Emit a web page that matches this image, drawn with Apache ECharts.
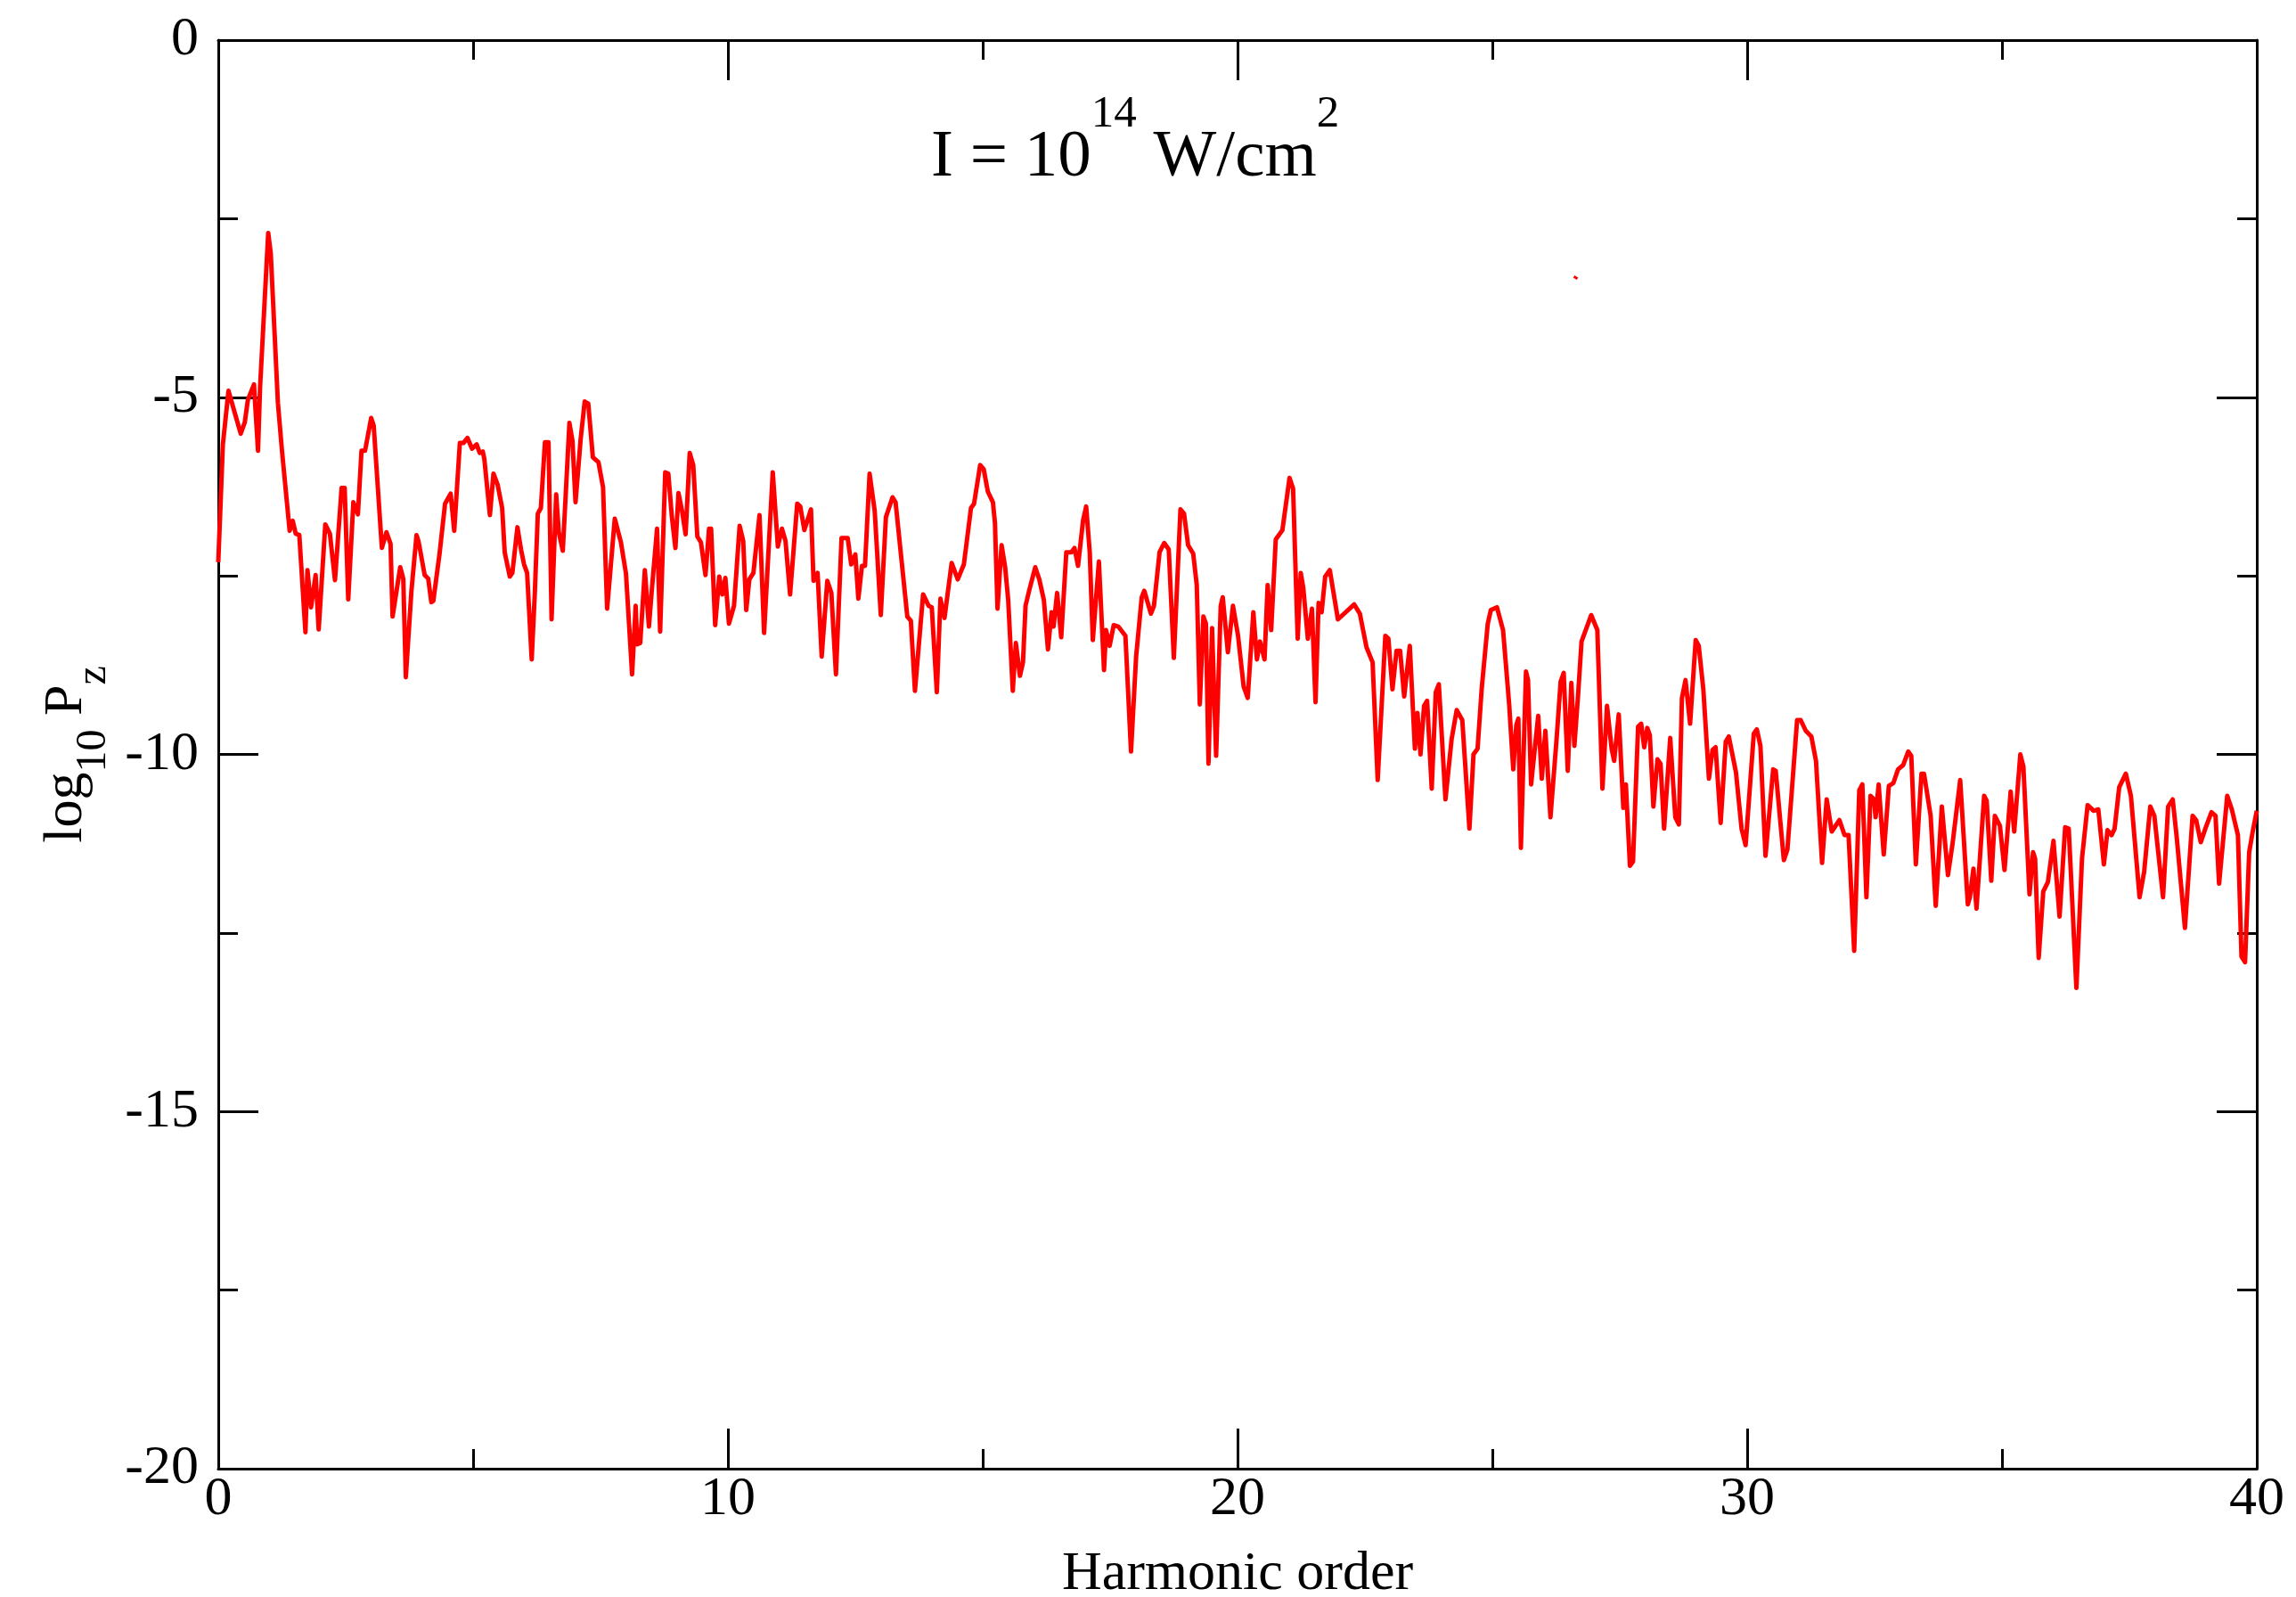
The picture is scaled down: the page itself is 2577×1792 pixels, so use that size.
<!DOCTYPE html>
<html>
<head>
<meta charset="utf-8">
<script src="https://cdn.jsdelivr.net/npm/echarts@6/dist/echarts.min.js"></script>
<style>
html, body { margin: 0; padding: 0; background: #ffffff; }
#chart { width: 2577px; height: 1792px; }
</style>
</head>
<body>
<div id="chart"></div>
<script>
// Harmonic order vs log10 Pz, in segments
const seg00to05 = [[0.0,-7.31],[0.09,-5.66],[0.2,-4.91],[0.44,-5.51],[0.52,-5.35],[0.58,-5.04],[0.7,-4.82],[0.78,-5.75],[0.82,-4.86],[0.98,-2.70],[1.03,-2.99],[1.17,-5.08],[1.25,-5.75],[1.4,-6.87],[1.46,-6.73],[1.52,-6.91],[1.59,-6.93],[1.71,-8.29],[1.75,-7.42],[1.82,-7.94],[1.91,-7.49],[1.97,-8.25],[2.1,-6.78],[2.19,-6.91],[2.29,-7.56],[2.42,-6.27],[2.48,-6.27],[2.55,-7.83],[2.65,-6.47],[2.74,-6.64],[2.81,-5.75],[2.88,-5.75],[3.0,-5.29],[3.05,-5.40],[3.21,-7.11],[3.3,-6.89],[3.38,-7.05],[3.42,-8.07],[3.57,-7.38],[3.63,-7.54],[3.68,-8.92],[3.79,-7.71],[3.89,-6.93],[3.93,-7.02],[4.05,-7.49],[4.12,-7.54],[4.18,-7.87],[4.22,-7.85],[4.34,-7.20],[4.45,-6.49],[4.52,-6.40],[4.56,-6.35],[4.63,-6.87],[4.74,-5.64]];
const seg05to10 = [[4.81,-5.64],[4.89,-5.57],[4.98,-5.72],[5.07,-5.66],[5.13,-5.78],[5.19,-5.76],[5.22,-5.86],[5.33,-6.65],[5.4,-6.07],[5.48,-6.22],[5.57,-6.55],[5.62,-7.17],[5.72,-7.51],[5.77,-7.46],[5.87,-6.82],[5.94,-7.13],[6.0,-7.34],[6.06,-7.46],[6.15,-8.67],[6.21,-7.76],[6.27,-6.63],[6.33,-6.55],[6.41,-5.63],[6.48,-5.63],[6.54,-8.11],[6.63,-6.36],[6.68,-6.88],[6.76,-7.15],[6.89,-5.36],[6.95,-5.61],[7.01,-6.47],[7.11,-5.59],[7.19,-5.06],[7.26,-5.09],[7.35,-5.84],[7.46,-5.91],[7.55,-6.26],[7.63,-7.96],[7.78,-6.7],[7.9,-7.03],[8.0,-7.47],[8.12,-8.88],[8.19,-7.92],[8.22,-8.46],[8.28,-8.44],[8.37,-7.42],[8.45,-8.21],[8.51,-7.67],[8.61,-6.84],[8.67,-8.28],[8.77,-6.05],[8.83,-6.07],[8.9,-6.67],[8.97,-7.11],[9.03,-6.34],[9.1,-6.59],[9.17,-6.92],[9.25,-5.78],[9.32,-5.95],[9.4,-6.95],[9.47,-7.03],[9.56,-7.49],[9.63,-6.84],[9.67,-6.84],[9.75,-8.19],[9.83,-7.51],[9.89,-7.76],[9.95,-7.53],[10.02,-8.17],[10.12,-7.92],[10.23,-6.8]];
const seg10to15 = [[10.3,-7.01],[10.36,-7.98],[10.42,-7.55],[10.5,-7.46],[10.62,-6.65],[10.71,-8.3],[10.88,-6.05],[10.98,-7.09],[11.06,-6.84],[11.13,-7.01],[11.22,-7.76],[11.36,-6.49],[11.42,-6.53],[11.5,-6.86],[11.63,-6.57],[11.68,-7.57],[11.76,-7.46],[11.84,-8.63],[11.95,-7.57],[12.03,-7.74],[12.12,-8.88],[12.23,-6.97],[12.35,-6.97],[12.42,-7.34],[12.5,-7.2],[12.56,-7.82],[12.63,-7.36],[12.69,-7.36],[12.78,-6.07],[12.88,-6.59],[13.0,-8.05],[13.1,-6.68],[13.23,-6.4],[13.29,-6.47],[13.52,-8.07],[13.59,-8.13],[13.67,-9.11],[13.83,-7.76],[13.94,-7.92],[14.0,-7.94],[14.1,-9.13],[14.17,-7.82],[14.25,-8.09],[14.39,-7.32],[14.51,-7.55],[14.63,-7.34],[14.77,-6.55],[14.83,-6.49]];
const seg15to20 = [[14.95,-5.95],[15.02,-6.01],[15.1,-6.32],[15.2,-6.47],[15.24,-6.76],[15.29,-7.96],[15.37,-7.07],[15.44,-7.38],[15.5,-7.84],[15.59,-9.11],[15.65,-8.44],[15.73,-8.9],[15.79,-8.71],[15.84,-7.92],[15.91,-7.71],[16.03,-7.38],[16.11,-7.55],[16.2,-7.84],[16.28,-8.53],[16.35,-8.01],[16.39,-8.21],[16.46,-7.74],[16.54,-8.36],[16.64,-7.17],[16.74,-7.17],[16.8,-7.11],[16.87,-7.36],[16.97,-6.72],[17.03,-6.53],[17.1,-7.17],[17.16,-8.4],[17.28,-7.3],[17.38,-8.82],[17.42,-8.26],[17.49,-8.48],[17.57,-8.19],[17.66,-8.21],[17.8,-8.34],[17.91,-9.96],[18.01,-8.63],[18.12,-7.8],[18.17,-7.71],[18.3,-8.03],[18.36,-7.92],[18.47,-7.17],[18.56,-7.04],[18.65,-7.13],[18.75,-8.65],[18.88,-6.57],[18.95,-6.63],[19.03,-7.07],[19.13,-7.19],[19.2,-7.63],[19.26,-9.3],[19.33,-8.07],[19.38,-8.17],[19.43,-10.13],[19.5,-8.23],[19.58,-10.02],[19.67,-7.92],[19.71,-7.8],[19.81,-8.57]];
const seg20to25 = [[19.91,-7.92],[20.01,-8.34],[20.12,-9.05],[20.2,-9.21],[20.31,-8.01],[20.38,-8.67],[20.44,-8.42],[20.53,-8.67],[20.59,-7.63],[20.66,-8.26],[20.75,-6.99],[20.88,-6.86],[21.02,-6.13],[21.09,-6.28],[21.18,-8.38],[21.24,-7.46],[21.29,-7.67],[21.38,-8.38],[21.46,-7.96],[21.53,-9.27],[21.59,-7.88],[21.65,-8.01],[21.72,-7.51],[21.81,-7.42],[21.97,-8.11],[22.29,-7.9],[22.4,-8.03],[22.53,-8.5],[22.65,-8.71],[22.75,-10.36],[22.9,-8.34],[22.96,-8.38],[23.04,-9.09],[23.12,-8.55],[23.19,-8.55],[23.27,-9.19],[23.38,-8.48],[23.48,-9.92],[23.53,-9.42],[23.59,-10.0],[23.66,-9.32],[23.72,-9.25],[23.81,-10.48],[23.89,-9.13],[23.95,-9.02],[24.08,-10.63],[24.2,-9.79],[24.3,-9.38],[24.41,-9.52],[24.55,-11.04],[24.63,-10.0],[24.71,-9.92],[24.79,-9.09],[24.91,-8.17],[24.97,-7.98]];
const seg25to30 = [[25.09,-7.94],[25.21,-8.26],[25.33,-9.3],[25.41,-10.21],[25.47,-9.59],[25.51,-9.5],[25.56,-11.31],[25.66,-8.84],[25.7,-8.96],[25.76,-10.42],[25.9,-9.46],[25.97,-10.34],[26.04,-9.67],[26.14,-10.88],[26.26,-9.79],[26.34,-8.98],[26.4,-8.86],[26.48,-10.23],[26.55,-9.0],[26.61,-9.88],[26.68,-9.19],[26.75,-8.42],[26.94,-8.05],[27.06,-8.26],[27.16,-10.48],[27.25,-9.32],[27.34,-9.92],[27.39,-10.09],[27.48,-9.44],[27.57,-10.75],[27.62,-10.42],[27.7,-11.56],[27.76,-11.5],[27.86,-9.61],[27.92,-9.57],[27.98,-9.9],[28.04,-9.63],[28.09,-9.73],[28.16,-10.73],[28.24,-10.07],[28.3,-10.13],[28.37,-11.04],[28.49,-9.77],[28.59,-10.88],[28.66,-10.98],[28.72,-9.21],[28.79,-8.96],[28.88,-9.57],[28.99,-8.4],[29.05,-8.48],[29.14,-9.09],[29.25,-10.34],[29.32,-9.94],[29.38,-9.9],[29.48,-10.96],[29.58,-9.82],[29.64,-9.75],[29.78,-10.25],[29.89,-11.04],[29.97,-11.27]];
const seg30to35 = [[30.13,-9.71],[30.19,-9.65],[30.26,-9.88],[30.36,-11.42],[30.51,-10.21],[30.56,-10.23],[30.72,-11.48],[30.79,-11.33],[30.98,-9.52],[31.05,-9.52],[31.15,-9.67],[31.26,-9.75],[31.35,-10.09],[31.47,-11.52],[31.56,-10.63],[31.66,-11.08],[31.81,-10.92],[31.91,-11.13],[31.99,-11.13],[32.1,-12.75],[32.2,-10.5],[32.26,-10.42],[32.34,-12.0],[32.42,-10.58],[32.49,-10.63],[32.52,-10.88],[32.58,-10.42],[32.68,-11.4],[32.78,-10.44],[32.87,-10.4],[32.96,-10.21],[33.06,-10.15],[33.16,-9.96],[33.22,-10.02],[33.31,-11.54],[33.42,-10.27],[33.47,-10.27],[33.6,-10.86],[33.7,-12.12],[33.82,-10.73],[33.94,-11.69],[34.03,-11.25],[34.18,-10.36],[34.33,-12.1],[34.37,-12.0],[34.44,-11.6],[34.5,-12.16],[34.65,-10.58],[34.7,-10.65]];
const seg35to40 = [[34.79,-11.77],[34.86,-10.86],[34.96,-11.0],[35.05,-11.62],[35.17,-10.52],[35.24,-11.08],[35.36,-10.0],[35.42,-10.17],[35.54,-11.96],[35.61,-11.37],[35.65,-11.46],[35.72,-12.85],[35.81,-11.92],[35.9,-11.79],[36.01,-11.21],[36.13,-12.27],[36.24,-11.02],[36.31,-11.04],[36.46,-13.27],[36.57,-11.46],[36.68,-10.71],[36.8,-10.79],[36.89,-10.77],[37.0,-11.54],[37.07,-11.06],[37.15,-11.13],[37.21,-11.04],[37.3,-10.46],[37.43,-10.27],[37.53,-10.58],[37.7,-12.0],[37.79,-11.64],[37.91,-10.73],[37.99,-10.86],[38.16,-12.0],[38.26,-10.73],[38.35,-10.63],[38.43,-11.17],[38.59,-12.43],[38.74,-10.86],[38.81,-10.92],[38.9,-11.23],[38.99,-11.04],[39.11,-10.81],[39.19,-10.86],[39.26,-11.81],[39.42,-10.58],[39.51,-10.77],[39.63,-11.13],[39.7,-12.83],[39.77,-12.91],[39.85,-11.37],[39.92,-11.08],[40.0,-10.79]];
// tiny stray red dash seen in the reference
const strayMark = [[26.6,-3.31],[26.67,-3.34]];

const xRange = [0, 40];
const yRange = [-20, 0];
const xStep = 10;
const yStep = 5;
const xName = 'Harmonic order';
const titleText = '{a|I = 10}{s|14}{a| W/cm}{s|2}';
const yNameText = '{m|log}{s|10}{m| P}{s|z}';

const spectrum = [].concat(seg00to05, seg05to10, seg10to15, seg15to20, seg20to25, seg25to30, seg30to35, seg35to40);

const FONT = '"Liberation Serif", "Times New Roman", Times, serif';
const BLACK = '#000000';

function makeAxis(kind, pos, showLabel) {
  const isX = kind === 'x';
  return {
    type: 'value',
    position: pos,
    min: isX ? xRange[0] : yRange[0],
    max: isX ? xRange[1] : yRange[1],
    interval: isX ? xStep : yStep,
    axisLine: { show: true, onZero: false, lineStyle: { color: BLACK, width: 3 } },
    axisTick: { show: true, inside: true, length: 45, lineStyle: { color: BLACK, width: 3 } },
    minorTick: { show: true, splitNumber: 2, length: 22, lineStyle: { color: BLACK, width: 3 } },
    splitLine: { show: false },
    minorSplitLine: { show: false },
    axisLabel: {
      show: showLabel,
      color: BLACK,
      fontFamily: FONT,
      fontSize: 62,
      margin: isX ? 4 : 22
    }
  };
}

const xBottom = makeAxis('x', 'bottom', true);
xBottom.name = xName;
xBottom.nameLocation = 'middle';
xBottom.nameGap = 88;
xBottom.nameTextStyle = { color: BLACK, fontFamily: FONT, fontSize: 62, lineHeight: 62 };

const yLeft = makeAxis('y', 'left', true);
yLeft.name = yNameText;
yLeft.nameLocation = 'middle';
yLeft.nameRotate = 90;
yLeft.nameGap = 115;
yLeft.nameTextStyle = {
  color: BLACK,
  fontFamily: FONT,
  rich: {
    m: { fontFamily: FONT, fontSize: 62, lineHeight: 62, verticalAlign: 'top', color: BLACK },
    s: { fontFamily: FONT, fontSize: 48, lineHeight: 86, verticalAlign: 'bottom', color: BLACK }
  }
};

const option = {
  backgroundColor: '#ffffff',
  animation: false,
  title: {
    text: titleText,
    left: 1045,
    top: 103,
    padding: 0,
    textStyle: {
      color: BLACK,
      fontFamily: FONT,
      fontWeight: 'normal',
      rich: {
        a: { fontFamily: FONT, fontSize: 75, fontWeight: 'normal', lineHeight: 112, verticalAlign: 'bottom', color: BLACK },
        s: { fontFamily: FONT, fontSize: 51, fontWeight: 'normal', lineHeight: 51, verticalAlign: 'top', color: BLACK }
      }
    }
  },
  grid: {
    left: 245, right: 44, top: 45, bottom: 144,
    containLabel: false,
    outerBoundsMode: 'none',
    show: false
  },
  xAxis: [xBottom, makeAxis('x', 'top', false)],
  yAxis: [yLeft, makeAxis('y', 'right', false)],
  series: [
    {
      name: 'log10 Pz',
      type: 'line',
      data: spectrum,
      showSymbol: false,
      symbol: 'none',
      smooth: false,
      lineStyle: { color: '#ff0000', width: 5, join: 'round' },
      itemStyle: { color: '#ff0000' },
      z: 3
    },
    {
      name: 'stray',
      type: 'line',
      data: strayMark,
      showSymbol: false,
      symbol: 'none',
      lineStyle: { color: '#ff0000', width: 3 },
      z: 3
    }
  ]
};

const chart = echarts.init(document.getElementById('chart'), null, { renderer: 'canvas', width: 2577, height: 1792 });
chart.setOption(option);
</script>
</body>
</html>
